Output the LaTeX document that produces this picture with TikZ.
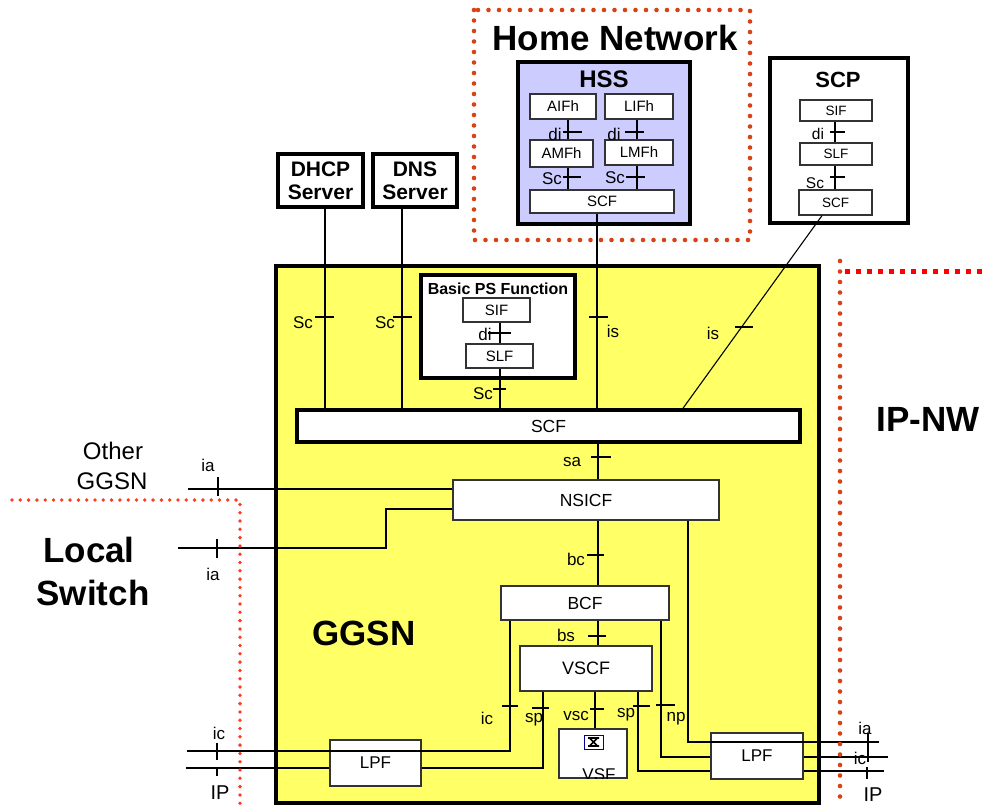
\documentclass[tikz,border=0pt]{standalone}
\usepackage{fontspec}
\setmainfont{Liberation Sans}
\definecolor{ggsnyellow}{HTML}{FFFF66}
\definecolor{hsslav}{HTML}{CCCCFF}
\definecolor{dotorange}{HTML}{D84315}
\definecolor{dotred}{HTML}{FF3B1F}
\definecolor{boxgray}{HTML}{333333}
\newcommand{\fsz}[1]{\fontsize{#1}{#1}\selectfont}
\begin{document}
\begin{tikzpicture}[x=1pt,y=-1pt,
  fbox/.style={draw=boxgray, fill=white, line width=1.2pt, inner sep=0pt, font=\fsz{15}},
  gbox/.style={draw=boxgray, fill=white, line width=1.2pt, inner sep=0pt, font=\fsz{17.5}},
  heavybox/.style={draw=black, line width=4pt, inner sep=0pt},
  conn/.style={line width=1.1pt},
  tick/.style={line width=1.1pt},
  lbl/.style={inner sep=0pt, font=\fsz{17}},
  slbl/.style={inner sep=0pt, font=\fsz{17}},
  bigb/.style={inner sep=0pt, font=\fsz{35}\bfseries},
  homedots/.style={draw=dotorange, line width=4.6pt, line cap=round, dash pattern=on 0pt off 10.5pt},
  leftdots/.style={draw=dotred, line width=3.8pt, line cap=round, dash pattern=on 0pt off 8.3pt},
  sqdots/.style={draw=red, line width=5pt, dash pattern=on 5pt off 6pt}
]
\useasboundingbox (0,0) rectangle (984,805);

% ---------- GGSN ----------
\node[heavybox, fill=ggsnyellow, minimum width=543pt, minimum height=537pt] (GGSN) at (547.5,534.5) {};
\node[bigb] (GGSNlbl) at (364,633) {GGSN};

% ---------- Home network / HSS ----------
\node[heavybox, fill=hsslav, minimum width=172pt, minimum height=162pt] (HSS) at (604,143) {};
\node[inner sep=0pt, font=\fsz{24}\bfseries] (HSSlbl) at (604,79) {HSS};
\node[fbox, minimum width=66pt, minimum height=25pt] (AIFh) at (563,106.5) {AIFh};
\node[fbox, minimum width=68pt, minimum height=25pt] (LIFh) at (639,106.5) {LIFh};
\node[fbox, minimum width=63pt, minimum height=27pt] (AMFh) at (561.5,153.5) {AMFh};
\node[fbox, minimum width=68pt, minimum height=25pt] (LMFh) at (639,152.5) {LMFh};
\node[fbox, minimum width=144pt, minimum height=23pt] (HSCF) at (602,201.5) {SCF};
\node[bigb] (HNlbl) at (615,38) {Home Network};

% ---------- SCP ----------
\node[heavybox, fill=white, minimum width=138pt, minimum height=165pt] (SCP) at (839,140.5) {};
\node[inner sep=0pt, font=\fsz{22}\bfseries] (SCPlbl) at (838,80) {SCP};
\node[fbox, font=\fsz{13.5}, minimum width=72pt, minimum height=21pt] (PSIF) at (836,110.5) {SIF};
\node[fbox, font=\fsz{13.5}, minimum width=72pt, minimum height=22pt] (PSLF) at (836,154) {SLF};
\node[fbox, font=\fsz{13.5}, minimum width=73pt, minimum height=25pt] (PSCF) at (835.5,202.5) {SCF};

% ---------- DHCP / DNS ----------
\node[heavybox, fill=white, minimum width=85pt, minimum height=53pt, align=center, font=\fsz{21}\bfseries] (DHCP) at (320.5,180.5) {DHCP\\[2pt]Server};
\node[heavybox, fill=white, minimum width=84pt, minimum height=53pt, align=center, font=\fsz{21}\bfseries] (DNS) at (415,180.5) {DNS\\[2pt]Server};

% ---------- Basic PS Function ----------
\node[heavybox, fill=white, minimum width=154pt, minimum height=103pt] (BPS) at (498,326.5) {};
\node[inner sep=0pt, font=\fsz{16}\bfseries] (BPSlbl) at (498,289) {Basic PS Function};
\node[fbox, minimum width=67pt, minimum height=24pt] (BSIF) at (496.5,310) {SIF};
\node[fbox, minimum width=67pt, minimum height=24pt] (BSLF) at (499.5,356) {SLF};

% ---------- GGSN internals ----------
\node[draw=black, fill=white, line width=3.5pt, inner sep=0pt, minimum width=503pt, minimum height=32pt, font=\fsz{17.5}] (GSCF) at (548.5,426) {SCF};
\node[gbox, minimum width=266pt, minimum height=40pt] (NSICF) at (586,500) {NSICF};
\node[gbox, minimum width=168pt, minimum height=34pt] (BCF) at (585,603) {BCF};
\node[gbox, font=\fsz{18}, minimum width=132pt, minimum height=45pt] (VSCF) at (586,668.5) {VSCF};
\node[gbox, minimum width=68pt, minimum height=49pt] (VSF) at (593,753.5) {};
\node[gbox, font=\fsz{17}, minimum width=91pt, minimum height=46pt] (LPFL) at (375.5,763) {LPF};
\node[gbox, font=\fsz{17}, minimum width=92pt, minimum height=46pt] (LPFR) at (757,756) {LPF};

% VSF content (broken image icon + clipped text)
\begin{scope}
  \clip (VSF.north west) rectangle (VSF.south east);
  \node[anchor=base, inner sep=0pt, font=\fsz{17}] (VSFlbl) at (599,780) {VSF};
\end{scope}
\draw[draw=blue!60!black, fill=white, line width=0.8pt] (584,735) rectangle (603,749);
\draw[line width=1.6pt] (588,738) -- (599,738) (588,746) -- (599,746) (589.5,738) -- (597.5,746) (597.5,738) -- (589.5,746);

% ---------- free ends ----------
\coordinate (oggE) at (188,489);
\coordinate (lsE) at (178,548);
\coordinate (icLE) at (187,751);
\coordinate (ipLE) at (186,768);
\coordinate (iaRE) at (879,742);
\coordinate (icRE) at (888,757);
\coordinate (ipRE) at (884,771);

% ---------- connectors ----------
% HSS internal
\draw[conn] (568,0 |- AIFh.south) -- (568,0 |- AMFh.north);
\draw[conn] (637,0 |- LIFh.south) -- (637,0 |- LMFh.north);
\draw[conn] (568,0 |- AMFh.south) -- (568,0 |- HSCF.north);
\draw[conn] (637,0 |- LMFh.south) -- (637,0 |- HSCF.north);
\draw[conn] (597,0 |- HSCF.south) -- (597,0 |- GSCF.north);
% SCP internal
\draw[conn] (835,0 |- PSIF.south) -- (835,0 |- PSLF.north);
\draw[conn] (835,0 |- PSLF.south) -- (835,0 |- PSCF.north);
\draw[conn] (822,0 |- PSCF.south) -- (683,0 |- GSCF.north);
% DHCP / DNS
\draw[conn] (325,0 |- DHCP.south) -- (325,0 |- GSCF.north);
\draw[conn] (402,0 |- DNS.south) -- (402,0 |- GSCF.north);
% Basic PS
\draw[conn] (500,0 |- BSIF.south) -- (500,0 |- BSLF.north);
\draw[conn] (500,0 |- BSLF.south) -- (500,0 |- GSCF.north);
% vertical chain
\draw[conn] (598,0 |- GSCF.south) -- (598,0 |- NSICF.north);
\draw[conn] (598,0 |- NSICF.south) -- (598,0 |- BCF.north);
\draw[conn] (598,0 |- BCF.south) -- (598,0 |- VSCF.north);
\draw[conn] (595,0 |- VSCF.south) -- (595,0 |- VSF.north);
% left side
\draw[conn] (oggE) -- (NSICF.west |- oggE);
\draw[conn] (lsE) -- (386,548) -- (386,509) -- (NSICF.west |- 0,509);
\draw[conn] (510,0 |- BCF.south) -- (510,751) -- (icLE);
\draw[conn] (543,0 |- VSCF.south) -- (543,768) -- (LPFL.east |- 0,768);
\draw[conn] (LPFL.west |- 0,768) -- (ipLE);
% right side
\draw[conn] (688,0 |- NSICF.south) -- (688,742) -- (iaRE);
\draw[conn] (661,0 |- BCF.south) -- (661,757) -- (LPFR.west |- 0,757);
\draw[conn] (LPFR.east |- 0,757) -- (icRE);
\draw[conn] (638,0 |- VSCF.south) -- (638,771) -- (LPFR.west |- 0,771);
\draw[conn] (LPFR.east |- 0,771) -- (ipRE);

% ---------- ticks ----------
\draw[tick] (563,132) -- (582,132) (625,132) -- (644,132);
\draw[tick] (563,177) -- (581,177) (626,177) -- (645,177);
\draw[tick] (830,132) -- (845,132) (830,177) -- (845,177);
\draw[tick] (315,317) -- (334,317) (393,317) -- (412,317);
\draw[tick] (488,333) -- (511,333) (493,389) -- (506,389);
\draw[tick] (589,317) -- (608,317) (735,327) -- (753,327);
\draw[tick] (591,457) -- (611,457) (587,555) -- (604,555) (588,636) -- (606,636);
\draw[tick] (502,706) -- (518,706) (532,708) -- (549,708) (590,709) -- (604,709)
            (633,706) -- (650,706) (656,705) -- (675,705);
\draw[tick] (218,477) -- (218,496) (217,539) -- (217,558) (217,743) -- (217,760) (217,767) -- (217,776);
\draw[tick] (868,733) -- (868,762) (867,767) -- (867,779);

% ---------- interface labels ----------
\node[slbl] (l1) at (555,134) {di};
\node[slbl] (l2) at (614,134) {di};
\node[slbl] (l3) at (552,179) {Sc};
\node[slbl] (l4) at (615,178) {Sc};
\node[slbl, font=\fsz{15.5}] (l5) at (818,134) {di};
\node[slbl, font=\fsz{15.5}] (l6) at (815,183) {Sc};
\node[lbl] (l7) at (303,323) {Sc};
\node[lbl] (l8) at (385,323) {Sc};
\node[slbl] (l9) at (485,334) {di};
\node[lbl] (l10) at (483,394) {Sc};
\node[lbl] (l11) at (613,331) {is};
\node[lbl] (l12) at (713,333) {is};
\node[lbl] (l13) at (572,462) {sa};
\node[lbl] (l14) at (576,559) {bc};
\node[lbl] (l15) at (566,635) {bs};
\node[lbl] (l16) at (487,718) {ic};
\node[lbl] (l17) at (534,720) {sp};
\node[lbl] (l18) at (576,716) {vsc};
\node[lbl] (l19) at (626,715) {sp};
\node[lbl] (l20) at (676,719) {np};
\node[lbl] (l21) at (208,465) {ia};
\node[lbl] (l22) at (213,574) {ia};
\node[lbl] (l23) at (219,733) {ic};
\node[lbl, font=\fsz{20}] (l24) at (220,793) {IP};
\node[lbl] (l25) at (865,728) {ia};
\node[lbl] (l26) at (860,758) {ic};
\node[lbl, font=\fsz{20}] (l27) at (873,795) {IP};

% ---------- region labels ----------
\node[inner sep=0pt, font=\fsz{24}] (oth1) at (113,451) {Other};
\node[inner sep=0pt, font=\fsz{24}] (oth2) at (112,481) {GGSN};
\node[bigb] (ls1) at (89,550) {Local};
\node[bigb] (ls2) at (93,593) {Switch};
\node[bigb] (ipnw) at (928,419) {IP-NW};

% ---------- dotted boundaries ----------
\draw[homedots] (474,10) rectangle (750,240);
\draw[leftdots] (12,500) -- (240,500) -- (240,805);
\draw[homedots] (840,261) -- (840,805);
\draw[sqdots] (845,271) -- (984,271);
\end{tikzpicture}
\end{document}
